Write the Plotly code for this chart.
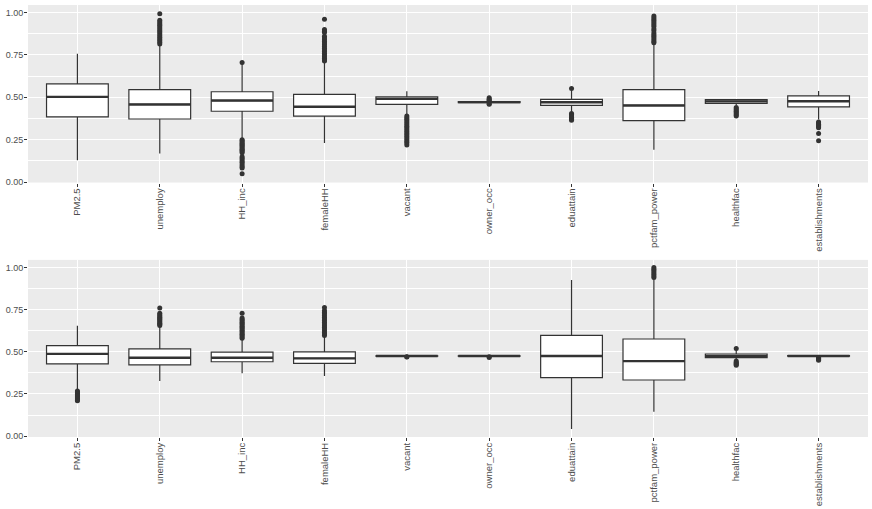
import plotly.graph_objects as go

categories = ["PM2.5", "unemploy", "HH_inc", "femaleHH", "vacant",
              "owner_occ", "eduattain", "pctfam_power", "healthfac", "establishments"]

# top panel box statistics
top_q1 = [0.385, 0.372, 0.418, 0.389, 0.458, 0.469, 0.453, 0.363, 0.464, 0.444]
top_median = [0.503, 0.458, 0.481, 0.444, 0.491, 0.472, 0.471, 0.452, 0.476, 0.477]
top_q3 = [0.580, 0.546, 0.533, 0.517, 0.503, 0.475, 0.488, 0.546, 0.487, 0.509]
top_lower = [0.128, 0.168, 0.258, 0.231, 0.400, 0.465, 0.415, 0.191, 0.455, 0.369]
top_upper = [0.757, 0.807, 0.700, 0.708, 0.536, 0.478, 0.545, 0.815, 0.490, 0.537]
top_outliers = [
    [],
    [0.994, 0.955, 0.945, 0.935, 0.925, 0.915, 0.905, 0.895, 0.885, 0.875,
     0.865, 0.855, 0.845, 0.835, 0.825, 0.815],
    [0.705, 0.250, 0.243, 0.236, 0.229, 0.222, 0.215, 0.208, 0.201, 0.194,
     0.187, 0.180, 0.173, 0.150, 0.140, 0.130, 0.120, 0.112, 0.100, 0.090,
     0.083, 0.049],
    [0.961, 0.900, 0.890, 0.882, 0.860, 0.850, 0.840, 0.830, 0.820, 0.810,
     0.800, 0.790, 0.780, 0.770, 0.760, 0.750, 0.740, 0.730, 0.720, 0.714],
    [0.390, 0.380, 0.370, 0.360, 0.350, 0.340, 0.330, 0.320, 0.310, 0.300,
     0.290, 0.280, 0.270, 0.260, 0.250, 0.240, 0.230, 0.218],
    [0.497, 0.490, 0.485, 0.481, 0.462, 0.459],
    [0.552, 0.405, 0.398, 0.390, 0.383, 0.376, 0.370, 0.365],
    [0.980, 0.970, 0.960, 0.950, 0.940, 0.930, 0.920, 0.905, 0.895, 0.880,
     0.870, 0.860, 0.850, 0.840, 0.830, 0.822],
    [0.440, 0.432, 0.425, 0.418, 0.410, 0.403, 0.395, 0.390],
    [0.355, 0.348, 0.341, 0.334, 0.327, 0.320, 0.286, 0.244],
]

# bottom panel box statistics
bot_q1 = [0.429, 0.422, 0.441, 0.431, 0.474, 0.474, 0.347, 0.333, 0.466, 0.474]
bot_median = [0.488, 0.465, 0.465, 0.461, 0.475, 0.475, 0.475, 0.445, 0.476, 0.475]
bot_q3 = [0.537, 0.518, 0.498, 0.500, 0.476, 0.476, 0.598, 0.576, 0.487, 0.477]
bot_lower = [0.278, 0.327, 0.373, 0.357, 0.473, 0.473, 0.043, 0.145, 0.452, 0.472]
bot_upper = [0.655, 0.650, 0.575, 0.592, 0.477, 0.477, 0.925, 0.930, 0.510, 0.479]
bot_outliers = [
    [0.268, 0.262, 0.256, 0.250, 0.244, 0.238, 0.232, 0.226, 0.220, 0.214, 0.210],
    [0.759, 0.728, 0.720, 0.712, 0.705, 0.698, 0.691, 0.684, 0.677, 0.670,
     0.663, 0.656],
    [0.729, 0.700, 0.692, 0.684, 0.676, 0.668, 0.660, 0.652, 0.644, 0.636,
     0.628, 0.620, 0.612, 0.604, 0.596, 0.588, 0.580],
    [0.763, 0.745, 0.735, 0.725, 0.715, 0.705, 0.695, 0.685, 0.675, 0.665,
     0.655, 0.645, 0.635, 0.625, 0.615, 0.605, 0.597],
    [0.471, 0.469],
    [0.470, 0.466],
    [],
    [1.000, 0.990, 0.980, 0.970, 0.960, 0.950, 0.940],
    [0.519, 0.445, 0.438, 0.432, 0.426, 0.421],
    [0.466, 0.462, 0.458, 0.454, 0.450],
]

BOX_W = 0.75
DARK = "#333333"

fig = go.Figure()


def add_panel(q1, med, q3, lo, hi, outliers, xa, ya):
    pos = list(range(len(categories)))
    fig.add_trace(go.Box(
        x=pos, q1=q1, median=med, q3=q3, lowerfence=lo, upperfence=hi,
        width=BOX_W, whiskerwidth=0, boxpoints=False,
        fillcolor="white", line=dict(color=DARK, width=1.2),
        xaxis=xa, yaxis=ya, showlegend=False, hoverinfo="skip"))
    # thicker median lines, as in ggplot
    mx, my = [], []
    for i, m in enumerate(med):
        mx += [i - BOX_W / 2, i + BOX_W / 2, None]
        my += [m, m, None]
    fig.add_trace(go.Scatter(
        x=mx, y=my, mode="lines", line=dict(color=DARK, width=2.4),
        xaxis=xa, yaxis=ya, showlegend=False, hoverinfo="skip"))
    ox, oy = [], []
    for i, vals in enumerate(outliers):
        ox += [i] * len(vals)
        oy += vals
    fig.add_trace(go.Scatter(
        x=ox, y=oy, mode="markers", marker=dict(color=DARK, size=5),
        xaxis=xa, yaxis=ya, showlegend=False, hoverinfo="skip"))


add_panel(top_q1, top_median, top_q3, top_lower, top_upper, top_outliers, "x", "y")
add_panel(bot_q1, bot_median, bot_q3, bot_lower, bot_upper, bot_outliers, "x2", "y2")

xstyle = dict(
    tickmode="array", tickvals=list(range(len(categories))), ticktext=categories,
    tickangle=-90, range=[-0.6, len(categories) - 0.4],
    showgrid=True, gridcolor="white", gridwidth=1.1, zeroline=False,
    ticks="outside", ticklen=3, tickcolor=DARK, tickwidth=1,
    ticklabelstandoff=-2, tickfont=dict(size=9.5),
)
ystyle = dict(
    tickmode="array", tickvals=[0, 0.25, 0.5, 0.75, 1.0],
    ticktext=["0.00", "0.25", "0.50", "0.75", "1.00"],
    showgrid=True, gridcolor="white", gridwidth=1.1, zeroline=False,
    ticks="outside", ticklen=3, tickcolor=DARK, tickwidth=1,
    ticklabelstandoff=-1,
    minor=dict(tickmode="array", tickvals=[0.125, 0.375, 0.625, 0.875],
               showgrid=True, gridcolor="white", gridwidth=0.55, ticklen=0),
)

fig.update_layout(
    width=872, height=509,
    margin=dict(l=28, r=4, t=5, b=72),
    paper_bgcolor="white", plot_bgcolor="#EBEBEB",
    font=dict(family="Liberation Sans, Arial, sans-serif", size=9, color="#4D4D4D"),
    xaxis=dict(xstyle, domain=[0, 1], anchor="y"),
    yaxis=dict(ystyle, domain=[0.589, 1], anchor="x", range=[-0.003, 1.045]),
    xaxis2=dict(xstyle, domain=[0, 1], anchor="y2"),
    yaxis2=dict(ystyle, domain=[0, 0.41], anchor="x2", range=[-0.005, 1.045]),
)

# drop the default page margin so the figure sits at the window's corner
fig.write_html("out.html", config={"displayModeBar": False},
               post_script="document.body.style.margin='0';")
